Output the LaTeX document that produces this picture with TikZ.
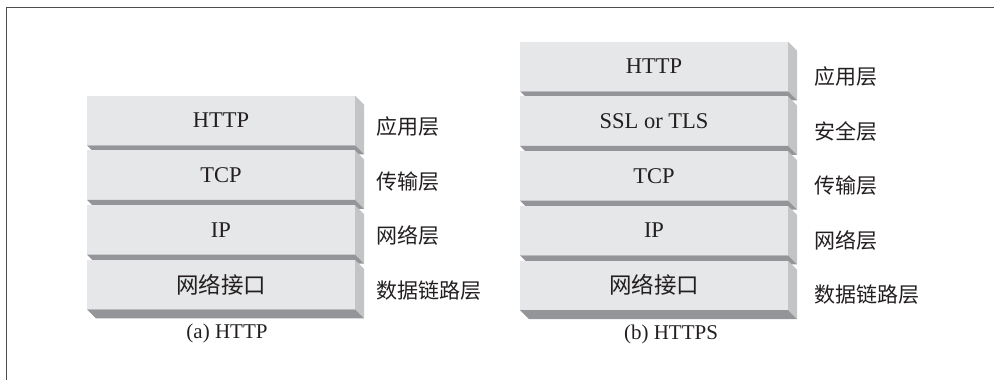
\documentclass[tikz,border=0pt]{standalone}
\usepackage{fontspec}
\setmainfont{Liberation Serif}
\newfontfamily\cjk{Noto Sans CJK SC}
\usepackage{tikz}
\usetikzlibrary{positioning}
\definecolor{frontgray}{HTML}{E6E7E8}
\definecolor{sidegray}{HTML}{C3C4C6}
\definecolor{basegray}{HTML}{939598}
\definecolor{framegray}{HTML}{4D4D4F}
\definecolor{inkblack}{HTML}{231F20}
% side and bottom faces of one layer block
\newcommand{\layerfaces}[1]{%
  \fill[sidegray] (#1.north east) -- ++(9,9) -- ([shift={(9,9)}]#1.south east) -- (#1.south east) -- cycle;
  \fill[basegray] (#1.south west) -- (#1.south east) -- ++(9,9) -- ([shift={(9,9)}]#1.south west) -- cycle;}

\begin{document}
\begin{tikzpicture}[
  x=1pt, y=-1pt,
  node distance=5.2pt,
  layer/.style={rectangle, fill=frontgray, minimum width=268pt, minimum height=49.5pt, inner sep=0pt, outer sep=0pt, text=inkblack, font=\fontsize{22.5}{22.5}\selectfont},
  tag/.style={anchor=west, inner sep=0pt, text=inkblack, font=\cjk\fontsize{21}{21}\selectfont},
  caption/.style={inner sep=0pt, text=inkblack, font=\fontsize{21}{21}\selectfont}
]
\useasboundingbox (0,0) rectangle (994,380);
\draw[framegray, line width=1.6pt] (6.5,381) -- (6.5,7.5) -- (995,7.5);

% (a) HTTP
\node[layer] (a1) at (221,120.5) {HTTP};
\layerfaces{a1}
\node[layer, below=of a1] (a2) {TCP};
\layerfaces{a2}
\node[layer, below=of a2] (a3) {IP};
\layerfaces{a3}
\node[layer, below=of a3] (a4) {\cjk 网络接口};
\layerfaces{a4}
\node[tag, right=21pt of a1.east, yshift=-6pt] (ta1) {应用层};
\node[tag, right=21pt of a2.east, yshift=-6pt] (ta2) {传输层};
\node[tag, right=21pt of a3.east, yshift=-6pt] (ta3) {网络层};
\node[tag, right=21pt of a4.east, yshift=-6pt] (ta4) {数据链路层};
\node[caption] (capa) at ([xshift=6pt, yshift=-24pt]a4.south) {(a) HTTP};

% (b) HTTPS
\node[layer] (b1) at (654,66.5) {HTTP};
\layerfaces{b1}
\node[layer, below=of b1] (b2) {SSL or TLS};
\layerfaces{b2}
\node[layer, below=of b2] (b3) {TCP};
\layerfaces{b3}
\node[layer, below=of b3] (b4) {IP};
\layerfaces{b4}
\node[layer, below=of b4] (b5) {\cjk 网络接口};
\layerfaces{b5}
\node[tag, right=26pt of b1.east, yshift=-10pt] (tb1) {应用层};
\node[tag, right=26pt of b2.east, yshift=-10pt] (tb2) {安全层};
\node[tag, right=26pt of b3.east, yshift=-10pt] (tb3) {传输层};
\node[tag, right=26pt of b4.east, yshift=-10pt] (tb4) {网络层};
\node[tag, right=26pt of b5.east, yshift=-9pt] (tb5) {数据链路层};
\node[caption] (capb) at ([xshift=17pt, yshift=-24pt]b5.south) {(b) HTTPS};
\end{tikzpicture}
\end{document}
